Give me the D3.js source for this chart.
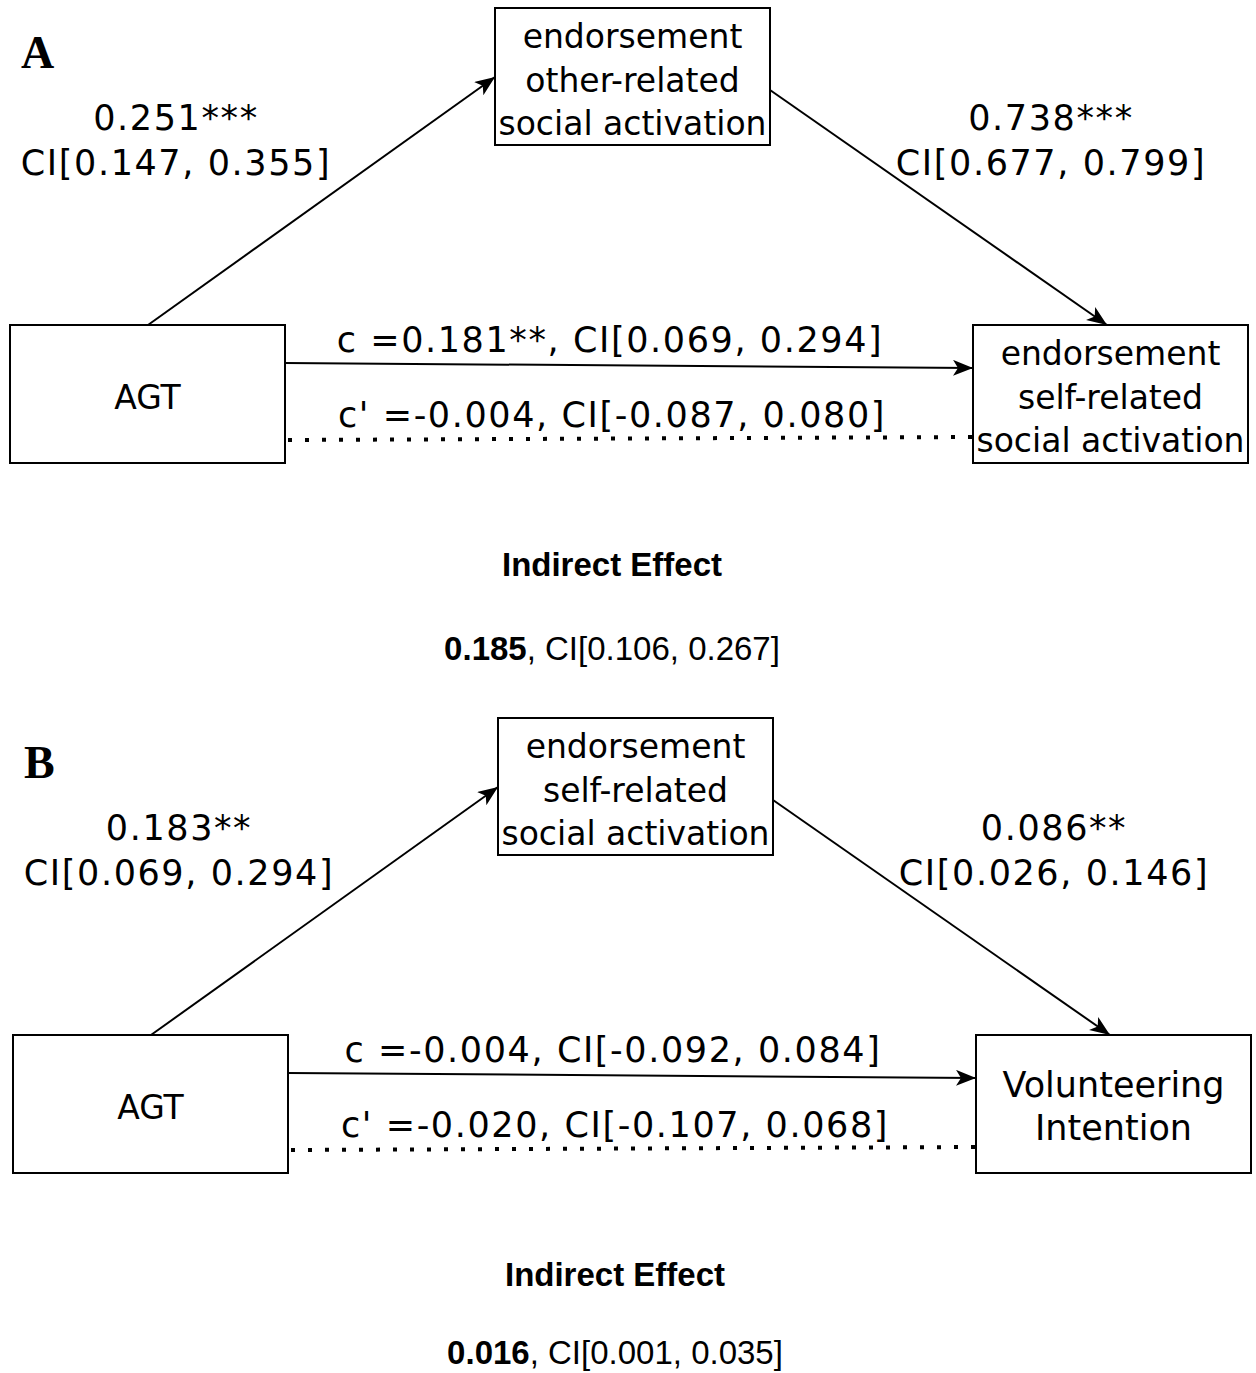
<!DOCTYPE html>
<html>
<head>
<meta charset="utf-8">
<script src="https://cdn.jsdelivr.net/npm/d3@7"></script>
<style>
  body { margin: 0; background: #fff; }
</style>
</head>
<body>
<div id="chart"></div>
<script>
// panel data
const panels = ["A", "B"];
const predictorLabels = ["AGT", "AGT"];
const mediatorLabels = [["endorsement", "other-related", "social activation"],
                        ["endorsement", "self-related", "social activation"]];
const outcomeLabels = [["endorsement", "self-related", "social activation"],
                       ["Volunteering", "Intention"]];

// path coefficients
const aCoef = [0.251, 0.183], aStars = ["***", "**"], aCI = [[0.147, 0.355], [0.069, 0.294]];
const bCoef = [0.738, 0.086], bStars = ["***", "**"], bCI = [[0.677, 0.799], [0.026, 0.146]];
const cCoef = [0.181, -0.004], cStars = ["**", ""], cCI = [[0.069, 0.294], [-0.092, 0.084]];
const cpCoef = [-0.004, -0.020], cpCI = [[-0.087, 0.080], [-0.107, 0.068]];
const indirect = [0.185, 0.016], indirectCI = [[0.106, 0.267], [0.001, 0.035]];

const width = 1256, height = 1373;

const svg = d3.select("#chart").append("svg")
    .attr("width", width)
    .attr("height", height);

// plain hyphen instead of unicode minus
const fmt = d3.formatLocale({decimal: ".", thousands: ",", grouping: [3], currency: ["", ""], minus: "-"}).format(".3f");
const ci = d => `CI[${fmt(d[0])}, ${fmt(d[1])}]`;

// panel offsets
const panelY = d3.scaleOrdinal().domain(panels).range([0, 710]);
const panelX = d3.scaleOrdinal().domain(panels).range([0, 3]);

// node columns / rows inside a panel
const colX = d3.scaleOrdinal().domain(["pred", "med", "out"]).range([10, 495, 973]);
const rowY = d3.scaleOrdinal().domain(["top", "bottom"]).range([8, 325]);
const boxW = 275, boxH = 137;

const labelFont = "DejaVu Sans, Verdana, sans-serif";

svg.append("defs").append("marker")
    .attr("id", "arrow")
    .attr("markerUnits", "userSpaceOnUse")
    .attr("markerWidth", 24)
    .attr("markerHeight", 18)
    .attr("refX", 20)
    .attr("refY", 8)
    .attr("orient", "auto")
  .append("path")
    .attr("d", "M0,0 L20,8 L0,16 L5,8 Z")
    .attr("fill", "#000");

panels.forEach((p, i) => {
  const g = svg.append("g")
      .attr("transform", `translate(${panelX(p)},${panelY(p)})`);

  // panel letter
  g.append("text")
      .attr("x", 21).attr("y", 68)
      .attr("font-family", "Liberation Serif, Times New Roman, serif")
      .attr("font-weight", "bold")
      .attr("font-size", 46)
      .text(p);

  const nodes = [
    {key: "pred", x: colX("pred"), y: rowY("bottom"), lines: [predictorLabels[i]]},
    {key: "med", x: colX("med"), y: rowY("top"), lines: mediatorLabels[i]},
    {key: "out", x: colX("out"), y: rowY("bottom"), lines: outcomeLabels[i]}
  ];
  const pos = {};
  nodes.forEach(n => pos[n.key] = n);

  // paths
  const pred = pos.pred, med = pos.med, out = pos.out;
  const lines = [
    {x1: pred.x + 138, y1: pred.y, x2: med.x, y2: med.y + 69, dash: null, arrow: true},
    {x1: med.x + boxW, y1: med.y + 82, x2: out.x + 134, y2: out.y, dash: null, arrow: true},
    {x1: pred.x + boxW, y1: pred.y + 38, x2: out.x, y2: out.y + 43, dash: null, arrow: true},
    {x1: pred.x + boxW + 3, y1: pred.y + 115, x2: out.x, y2: out.y + 112, dash: "4 13", arrow: false}
  ];
  g.selectAll("line.path")
    .data(lines)
    .join("line")
      .attr("class", "path")
      .attr("x1", d => d.x1).attr("y1", d => d.y1)
      .attr("x2", d => d.x2).attr("y2", d => d.y2)
      .attr("stroke", "#000")
      .attr("stroke-width", d => d.dash ? 4 : 2)
      .attr("stroke-dasharray", d => d.dash)
      .attr("marker-end", d => d.arrow ? "url(#arrow)" : null);

  // boxes
  const box = g.selectAll("g.node")
    .data(nodes)
    .join("g")
      .attr("class", "node")
      .attr("transform", d => `translate(${d.x},${d.y})`);

  box.append("rect")
      .attr("width", boxW)
      .attr("height", d => d.key === "med" ? boxH : boxH + 1)
      .attr("fill", "#fff")
      .attr("stroke", "#000")
      .attr("stroke-width", 2);

  box.each(function(d) {
    const n = d.lines.length;
    const fs = n === 2 ? 35 : 33;
    d3.select(this).selectAll("text")
      .data(d.lines)
      .join("text")
        .attr("x", boxW / 2)
        .attr("y", (t, j) => boxH / 2 + 15 + (j - (n - 1) / 2) * 43.5)
        .attr("text-anchor", "middle")
        .attr("font-family", labelFont)
        .attr("font-size", fs)
        .text(t => t);
  });

  // edge labels
  const edgeLabels = [
    {x: 175, y: 130, t: fmt(aCoef[i]) + aStars[i]},
    {x: 175, y: 175, t: ci(aCI[i])},
    {x: 1050, y: 130, t: fmt(bCoef[i]) + bStars[i]},
    {x: 1050, y: 175, t: ci(bCI[i])},
    {x: 609, y: 352, t: `c =${fmt(cCoef[i])}${cStars[i]}, ${ci(cCI[i])}`},
    {x: 611, y: 427, t: `c' =${fmt(cpCoef[i])}, ${ci(cpCI[i])}`}
  ];
  g.selectAll("text.edge")
    .data(edgeLabels)
    .join("text")
      .attr("class", "edge")
      .attr("x", d => d.x + 1)
      .attr("y", d => d.y)
      .attr("text-anchor", "middle")
      .attr("font-family", labelFont)
      .attr("font-size", 35)
      .attr("letter-spacing", 1.6)
      .text(d => d.t);

  // indirect effect
  g.append("text")
      .attr("x", 612).attr("y", 576)
      .attr("text-anchor", "middle")
      .attr("font-family", "Liberation Sans, Arial, sans-serif")
      .attr("font-weight", "bold")
      .attr("font-size", 33)
      .text("Indirect Effect");

  const ind = g.append("text")
      .attr("x", 612).attr("y", i === 0 ? 660 : 654)
      .attr("text-anchor", "middle")
      .attr("font-family", "Liberation Sans, Arial, sans-serif")
      .attr("font-size", 33);
  ind.append("tspan").attr("font-weight", "bold").text(fmt(indirect[i]));
  ind.append("tspan").text(", " + ci(indirectCI[i]));
});
</script>
</body>
</html>
